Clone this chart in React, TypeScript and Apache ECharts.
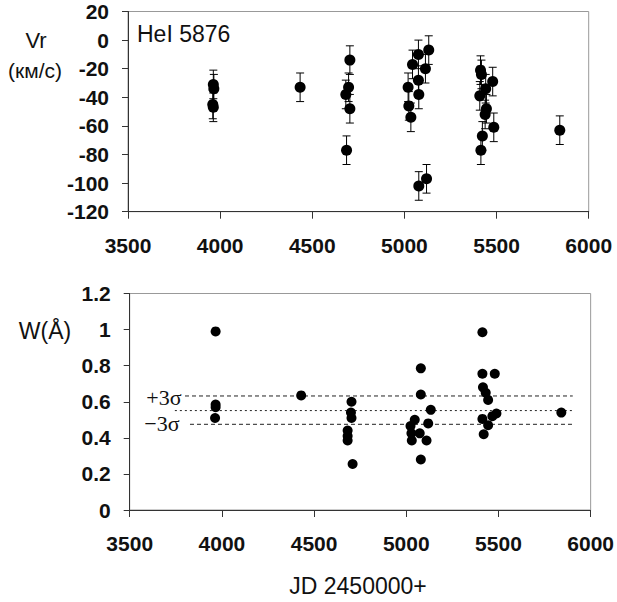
import React, { useEffect, useRef } from "react";
import * as echarts from "echarts";

// Top panel: HeI 5876 radial velocity
const VR_JD = [3963, 3966, 3960, 3963, 4434, 4704, 4697, 4682, 4704, 4686, 5020, 5024, 5035, 5044, 5076, 5076, 5078, 5114, 5132, 5078, 5120, 5413, 5418, 5409, 5441, 5445, 5438, 5479, 5485, 5423, 5415, 5843];
const VR_VAL = [-31, -34, -45, -47, -33, -14, -33, -38, -48, -77, -33, -46, -54, -17, -10, -28, -38, -20, -7, -102, -97, -21, -24, -39, -34, -48, -52, -29, -61, -67, -77, -63];
const VR_ERR = [10, 10, 10, 10, 10, 10, 10, 10, 10, 10, 10, 10, 10, 10, 10, 10, 10, 10, 10, 10, 10, 10, 10, 10, 10, 10, 10, 10, 10, 10, 10, 10];

// Bottom panel: equivalent width
const W_JD = [3966, 3966, 3966, 3963, 4430, 4703, 4700, 4703, 4682, 4682, 4682, 4709, 5079, 5079, 5133, 5119, 5046, 5023, 5028, 5030, 5073, 5110, 5079, 5413, 5413, 5480, 5416, 5431, 5444, 5489, 5467, 5413, 5444, 5420, 5841];
const W_VAL = [0.99, 0.585, 0.57, 0.51, 0.635, 0.6, 0.54, 0.51, 0.44, 0.41, 0.385, 0.255, 0.785, 0.64, 0.555, 0.48, 0.5, 0.465, 0.425, 0.385, 0.425, 0.385, 0.28, 0.985, 0.755, 0.755, 0.68, 0.65, 0.61, 0.535, 0.52, 0.505, 0.47, 0.42, 0.54];

// Sigma levels
const W_PLUS3 = 0.632;
const W_MEAN = 0.551;
const W_MINUS3 = 0.475;
const PLUS_START = 3800;
const MEAN_START = 3745;
const MINUS_START = 3827;
const LINE_END = 5903;

const X_TICKS = { min: 3500, max: 6000, interval: 500 };

export default function App() {
  const ref = useRef<HTMLDivElement>(null);
  useEffect(() => {
    if (!ref.current) return;
    const chart = echarts.init(ref.current, undefined, { renderer: "svg" });
    const sans = "'Liberation Sans', Arial, sans-serif";
    const serif = "'Liberation Serif', 'Times New Roman', serif";
    const tickLabel = { color: "#111", fontWeight: "bold" as const, fontSize: 21, fontFamily: sans };
    const axisLine = { show: true, onZero: false, lineStyle: { color: "#333", width: 1 } };
    const errData = VR_JD.map((x, i) => [x, VR_VAL[i] - VR_ERR[i], VR_VAL[i] + VR_ERR[i]]);
    const lineSeries = (start: number, y: number, dash: number[]) => ({
      type: "line",
      xAxisIndex: 1,
      yAxisIndex: 1,
      data: [[start, y], [LINE_END, y]],
      symbol: "none",
      silent: true,
      lineStyle: { color: "#222", width: 1, type: dash },
      z: 1,
    });
    chart.setOption({
      animation: false,
      backgroundColor: "#fff",
      grid: [
        { left: 128, top: 11.5, width: 460.7, height: 200.2, show: true, borderColor: "#999", borderWidth: 1, backgroundColor: "transparent" },
        { left: 129.7, top: 293.5, width: 461.3, height: 216.5, show: true, borderColor: "#999", borderWidth: 1, backgroundColor: "transparent" },
      ],
      xAxis: [0, 1].map((g) => ({
        type: "value",
        gridIndex: g,
        ...X_TICKS,
        axisLine,
        axisTick: { show: true, inside: false, length: 7, lineStyle: { color: "#333" } },
        axisLabel: { ...tickLabel, margin: 23, formatter: (v: number) => String(v) },
        splitLine: { show: false },
      })),
      yAxis: [
        {
          type: "value",
          gridIndex: 0,
          min: -120,
          max: 20,
          interval: 20,
          axisLine,
          axisTick: { show: true, length: 6, lineStyle: { color: "#333" } },
          axisLabel: { ...tickLabel, margin: 19 },
          splitLine: { show: false },
        },
        {
          type: "value",
          gridIndex: 1,
          min: 0,
          max: 1.2,
          interval: 0.2,
          axisLine,
          axisTick: { show: true, length: 6, lineStyle: { color: "#333" } },
          axisLabel: { ...tickLabel, margin: 19 },
          splitLine: { show: false },
        },
      ],
      series: [
        {
          type: "custom",
          xAxisIndex: 0,
          yAxisIndex: 0,
          data: errData,
          silent: true,
          z: 2,
          renderItem: (params: any, api: any) => {
            const x = api.value(0);
            const lo = api.coord([x, api.value(1)]);
            const hi = api.coord([x, api.value(2)]);
            const hw = 4;
            const st = { stroke: "#000", lineWidth: 1 };
            return {
              type: "group",
              children: [
                { type: "line", shape: { x1: hi[0], y1: hi[1], x2: lo[0], y2: lo[1] }, style: st },
                { type: "line", shape: { x1: hi[0] - hw, y1: hi[1], x2: hi[0] + hw, y2: hi[1] }, style: st },
                { type: "line", shape: { x1: lo[0] - hw, y1: lo[1], x2: lo[0] + hw, y2: lo[1] }, style: st },
              ],
            };
          },
        },
        {
          type: "scatter",
          xAxisIndex: 0,
          yAxisIndex: 0,
          data: VR_JD.map((x, i) => [x, VR_VAL[i]]),
          symbol: "circle",
          symbolSize: 11,
          itemStyle: { color: "#000", opacity: 1 },
          z: 3,
        },
        lineSeries(PLUS_START, W_PLUS3, [4, 3]),
        lineSeries(MEAN_START, W_MEAN, [2, 3]),
        lineSeries(MINUS_START, W_MINUS3, [4, 3]),
        {
          type: "scatter",
          xAxisIndex: 1,
          yAxisIndex: 1,
          data: W_JD.map((x, i) => [x, W_VAL[i]]),
          symbol: "circle",
          symbolSize: 10,
          itemStyle: { color: "#000", opacity: 1 },
          z: 3,
        },
      ],
      graphic: [
        { type: "text", x: 137, y: 34, style: { text: "HeI 5876", fontSize: 23, fontFamily: sans, fill: "#111", verticalAlign: "middle" } },
        { type: "text", x: 36, y: 40, style: { text: "Vr", fontSize: 22, fontFamily: sans, fill: "#111", align: "center", verticalAlign: "middle" } },
        { type: "text", x: 35, y: 70, style: { text: "(км/с)", fontSize: 21, fontFamily: sans, fill: "#111", align: "center", verticalAlign: "middle" } },
        { type: "text", x: 45, y: 331, style: { text: "W(Å)", fontSize: 23, fontFamily: sans, fill: "#111", align: "center", verticalAlign: "middle" } },
        { type: "text", x: 164, y: 397, style: { text: "+3σ", fontSize: 22, fontFamily: serif, fill: "#111", align: "center", verticalAlign: "middle" } },
        { type: "text", x: 162, y: 423, style: { text: "−3σ", fontSize: 22, fontFamily: serif, fill: "#111", align: "center", verticalAlign: "middle" } },
        { type: "text", x: 358, y: 586, style: { text: "JD 2450000+", fontSize: 23, fontFamily: sans, fill: "#111", align: "center", verticalAlign: "middle" } },
      ],
    });
    return () => chart.dispose();
  }, []);
  return <div ref={ref} style={{ position: "absolute", left: 0, top: 0, width: 617, height: 602 }} />;
}
